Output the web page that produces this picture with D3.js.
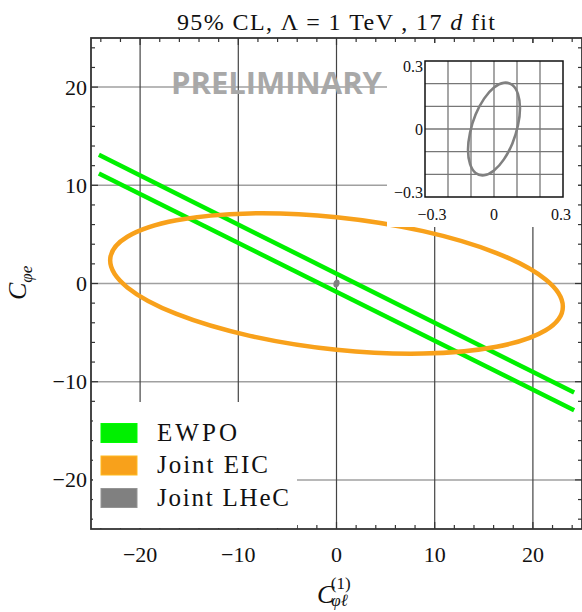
<!DOCTYPE html>
<html lang="en">
<head>
    <meta charset="UTF-8">
    <script src="https://d3js.org/d3.v7.min.js"></script>
    <style>
        body { margin: 0; background: white; }
        text { font-family: "Liberation Serif", "Times New Roman", serif; fill: #111; }
        .prelim { font-family: "Open Sans", sans-serif; font-weight: bold; fill: #a8a8a8; }
    </style>
</head>
<body>
    <svg id="chart" width="582" height="612"></svg>

    <script>
        // ---- data ----
        const majorTicks = [-20, -10, 0, 10, 20];
        const minorTicks = [-24, -22, -18, -16, -14, -12, -8, -6, -4, -2, 2, 4, 6, 8, 12, 14, 16, 18, 22, 24];

        // EWPO band: two parallel boundary lines
        const ewpoUpper = [[-24.2, 13.1], [24.2, -11.1]];
        const ewpoLower = [[-24.2, 11.2], [24.2, -12.9]];

        // Joint EIC 95% contour (points around the ellipse)
        const eicContour = [
            [23.05, -2.36], [21.30, 0.40], [16.30, 3.10], [8.82, 5.33],
            [0, 6.75], [-8.82, 7.14], [-16.30, 6.44], [-21.30, 4.76],
            [-23.05, 2.36], [-21.30, -0.40], [-16.30, -3.10], [-8.82, -5.33],
            [0, -6.75], [8.82, -7.14], [16.30, -6.44], [21.30, -4.76]
        ];

        // Joint LHeC 95% contour (shown in the zoomed inset)
        const lhecContour = [
            [0.113, 0.092], [0.104, 0.155], [0.080, 0.194], [0.043, 0.204],
            [0, 0.183], [-0.043, 0.134], [-0.080, 0.064], [-0.104, -0.015],
            [-0.113, -0.092], [-0.104, -0.155], [-0.080, -0.194], [-0.043, -0.204],
            [0, -0.183], [0.043, -0.134], [0.080, -0.064], [0.104, 0.015]
        ];

        const insetTicks = [-0.3, 0, 0.3];
        const insetGrid = [-0.2, -0.1, 0, 0.1, 0.2];

        const legendLabels = ["EWPO", "Joint EIC", "Joint LHeC"];
        const legendColors = ["#00f000", "#f8a11b", "#808080"];

        // ---- layout ----
        const svg = d3.select("#chart");

        const x = d3.scaleLinear().domain([-25, 25]).range([91, 582]);
        const y = d3.scaleLinear().domain([-25, 25]).range([529, 38]);

        const xi = d3.scaleLinear().domain([-0.3, 0.3]).range([425, 563]);
        const yi = d3.scaleLinear().domain([-0.3, 0.3]).range([197, 61]);

        // title
        const title = svg.append("text")
            .attr("x", 336)
            .attr("y", 30)
            .attr("text-anchor", "middle")
            .attr("textLength", 318)
            .attr("lengthAdjust", "spacing")
            .style("font-size", "24px");
        title.append("tspan").text("95% CL, Λ = 1 TeV , 17 ");
        title.append("tspan").style("font-style", "italic").text("d");
        title.append("tspan").text(" fit");

        // grid
        svg.append("g").selectAll("line")
            .data(majorTicks)
            .enter().append("line")
            .attr("x1", x(-25)).attr("x2", x(25))
            .attr("y1", d => y(d)).attr("y2", d => y(d))
            .attr("stroke", "#a0a0a0")
            .attr("stroke-width", 1.5);

        svg.append("g").selectAll("line")
            .data(majorTicks)
            .enter().append("line")
            .attr("y1", y(-25)).attr("y2", y(25))
            .attr("x1", d => x(d)).attr("x2", d => x(d))
            .attr("stroke", "#444")
            .attr("stroke-width", 1.2);

        const line = d3.line().x(d => x(d[0])).y(d => y(d[1]));
        const closed = d3.line().x(d => x(d[0])).y(d => y(d[1])).curve(d3.curveCardinalClosed.tension(0));

        // EWPO
        [ewpoUpper, ewpoLower].forEach(seg => {
            svg.append("path")
                .attr("d", line(seg))
                .attr("fill", "none")
                .attr("stroke", legendColors[0])
                .attr("stroke-width", 4.5);
        });

        // EIC
        svg.append("path")
            .attr("d", closed(eicContour))
            .attr("fill", "none")
            .attr("stroke", legendColors[1])
            .attr("stroke-width", 4.5);

        // LHeC (tiny at this scale)
        svg.append("path")
            .attr("d", closed(lhecContour))
            .attr("fill", legendColors[2])
            .attr("stroke", legendColors[2])
            .attr("stroke-width", 4);

        // frame ticks
        const tickG = svg.append("g").attr("stroke", "#333").attr("stroke-width", 1.2);
        const allTicks = majorTicks.map(v => ({ v, len: 7 })).concat(minorTicks.map(v => ({ v, len: 4 })));
        allTicks.forEach(t => {
            tickG.append("line").attr("x1", x(t.v)).attr("x2", x(t.v)).attr("y1", y(-25)).attr("y2", y(-25) - t.len);
            tickG.append("line").attr("x1", x(t.v)).attr("x2", x(t.v)).attr("y1", y(25)).attr("y2", y(25) + t.len);
            tickG.append("line").attr("y1", y(t.v)).attr("y2", y(t.v)).attr("x1", x(-25)).attr("x2", x(-25) + t.len);
            tickG.append("line").attr("y1", y(t.v)).attr("y2", y(t.v)).attr("x1", x(25)).attr("x2", x(25) - t.len);
        });

        // legend
        svg.append("rect")
            .attr("x", 93).attr("y", 402)
            .attr("width", 204).attr("height", 126)
            .attr("fill", "white");

        const legendWidths = [80, 111, 132];
        const legend = svg.append("g").selectAll("g")
            .data(legendLabels)
            .enter().append("g")
            .attr("transform", (d, i) => `translate(101,${423.5 + i * 32.5})`);
        legend.append("rect")
            .attr("width", 36).attr("height", 19)
            .attr("fill", (d, i) => legendColors[i])
            .attr("stroke", (d, i) => d3.color(legendColors[i]).brighter(0.4))
            .attr("stroke-width", 1);
        legend.append("text")
            .attr("x", 56)
            .attr("y", 17)
            .attr("textLength", (d, i) => legendWidths[i])
            .attr("lengthAdjust", "spacing")
            .style("font-size", "25px")
            .text(d => d);

        // inset
        svg.append("rect")
            .attr("x", 387).attr("y", 43)
            .attr("width", 191).attr("height", 184)
            .attr("fill", "white");

        const inset = svg.append("g");
        inset.selectAll(".vg")
            .data(insetGrid)
            .enter().append("line")
            .attr("x1", d => xi(d)).attr("x2", d => xi(d))
            .attr("y1", yi(-0.3)).attr("y2", yi(0.3))
            .attr("stroke", "#777").attr("stroke-width", 1.3);
        inset.selectAll(".hg")
            .data(insetGrid)
            .enter().append("line")
            .attr("y1", d => yi(d)).attr("y2", d => yi(d))
            .attr("x1", xi(-0.3)).attr("x2", xi(0.3))
            .attr("stroke", "#777").attr("stroke-width", 1.3);

        const closedInset = d3.line().x(d => xi(d[0])).y(d => yi(d[1])).curve(d3.curveCardinalClosed.tension(0));
        inset.append("path")
            .attr("d", closedInset(lhecContour))
            .attr("fill", "none")
            .attr("stroke", legendColors[2])
            .attr("stroke-width", 2.6);

        inset.append("rect")
            .attr("x", xi(-0.3)).attr("y", yi(0.3))
            .attr("width", xi(0.3) - xi(-0.3)).attr("height", yi(-0.3) - yi(0.3))
            .attr("fill", "none").attr("stroke", "#111").attr("stroke-width", 1.5);

        // edge labels are kept inside the inset's span, as in the original
        const fmtInset = d => d === 0 ? "0" : (d < 0 ? "−" : "") + Math.abs(d).toFixed(1);
        const insetYShift = [1, 5.5, 11];
        inset.selectAll(".yl")
            .data(insetTicks)
            .enter().append("text")
            .attr("x", xi(-0.3) - 2)
            .attr("y", (d, i) => yi(d) + insetYShift[i])
            .attr("text-anchor", "end")
            .style("font-size", "16px")
            .text(fmtInset);
        const insetXShift = [7, 0, -2];
        inset.selectAll(".xl")
            .data(insetTicks)
            .enter().append("text")
            .attr("x", (d, i) => xi(d) + insetXShift[i])
            .attr("y", 220)
            .attr("text-anchor", "middle")
            .style("font-size", "16px")
            .text(fmtInset);

        // watermark
        svg.append("text")
            .attr("class", "prelim")
            .attr("x", 171)
            .attr("y", 94)
            .style("font-size", "31px")
            .text("PRELIMINARY");

        // frame
        svg.append("rect")
            .attr("x", x(-25)).attr("y", y(25))
            .attr("width", x(25) - x(-25)).attr("height", y(-25) - y(25))
            .attr("fill", "none").attr("stroke", "#333").attr("stroke-width", 1.8);

        // axis labels
        const fmt = d => (d < 0 ? "−" : "") + Math.abs(d);
        svg.append("g").selectAll("text")
            .data(majorTicks)
            .enter().append("text")
            .attr("x", d => x(d))
            .attr("y", 562)
            .attr("text-anchor", "middle")
            .style("font-size", "22px")
            .text(fmt);
        svg.append("g").selectAll("text")
            .data(majorTicks)
            .enter().append("text")
            .attr("x", 87)
            .attr("y", d => y(d) + 7.5)
            .attr("text-anchor", "end")
            .style("font-size", "22px")
            .text(fmt);

        const xl = svg.append("text")
            .attr("x", 317)
            .attr("y", 603)
            .style("font-size", "26px");
        xl.append("tspan").style("font-style", "italic").text("C");
        xl.append("tspan").attr("dx", -3).attr("dy", 3).style("font-size", "17px").style("font-style", "italic").text("φℓ");
        xl.append("tspan").attr("dx", -17).attr("dy", -17).style("font-size", "17px").text("(1)");

        const yl = svg.append("text")
            .attr("transform", "translate(26,300) rotate(-90)")
            .style("font-size", "26px");
        yl.append("tspan").style("font-style", "italic").text("C");
        yl.append("tspan").attr("dy", 6).style("font-size", "17px").style("font-style", "italic").text("φe");
    </script>
</body>
</html>
